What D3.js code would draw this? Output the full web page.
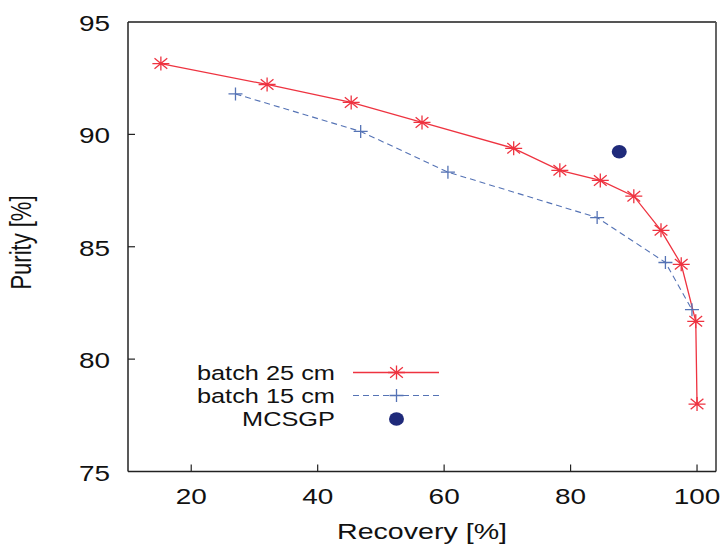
<!DOCTYPE html>
<html><head><meta charset="utf-8">
<script src="https://cdn.jsdelivr.net/npm/d3@7"></script>
<style>body{margin:0;background:#fff}svg{display:block}text{font-family:"Liberation Sans",Arial,sans-serif;fill:#111}</style>
</head><body><svg id="c" width="727" height="544"></svg>
<script>
const batch25Recovery = [15.2, 32.0, 45.3, 56.5, 71.0, 78.3, 84.7, 90.0, 94.3, 97.5, 99.8, 100.0];
const batch25Purity   = [93.15, 92.22, 91.42, 90.53, 89.38, 88.4, 87.95, 87.25, 85.73, 84.22, 81.68, 78.0];
const batch15Recovery = [27.0, 46.8, 60.6, 84.2, 95.0, 99.2];
const batch15Purity   = [91.8, 90.13, 88.32, 86.3, 84.3, 82.2];
const mcsgpRecovery = [87.7];
const mcsgpPurity   = [89.23];
const xTicks = [20, 40, 60, 80, 100];
const yTicks = [75, 80, 85, 90, 95];
const legendLabels = ["batch 25 cm", "batch 15 cm", "MCSGP"];

const SX = 1.3;
const svg = d3.select("#c");
const L = 128, R = 716, T = 22, B = 471.5;
const x = d3.scaleLinear().domain([10, 103]).range([L, R]);
const y = d3.scaleLinear().domain([75, 95]).range([B, T]);
const red = "#ee3340", blue = "#5573b5", navy = "#1f2a7a";

function stext(px, py, str, size, anchor, rot) {
  return svg.append("text")
    .attr("transform", `translate(${px},${py}) scale(${SX},1)` + (rot ? ` rotate(${rot})` : ""))
    .attr("text-anchor", anchor).attr("font-size", size).text(str);
}

// frame
svg.append("line").attr("x1", L).attr("x2", R).attr("y1", T).attr("y2", T).attr("stroke", "#555").attr("stroke-width", 1.8);
svg.append("line").attr("x1", R).attr("x2", R).attr("y1", T).attr("y2", B).attr("stroke", "#555").attr("stroke-width", 1.8);
svg.append("line").attr("x1", L).attr("x2", L).attr("y1", T).attr("y2", B).attr("stroke", "#222").attr("stroke-width", 1.5);
svg.append("line").attr("x1", L).attr("x2", R).attr("y1", B).attr("y2", B).attr("stroke", "#222").attr("stroke-width", 1.5);

// ticks
xTicks.forEach(t => {
  svg.append("line").attr("x1", x(t)).attr("x2", x(t)).attr("y1", B).attr("y2", B - 7).attr("stroke", "#222").attr("stroke-width", 1.2);
  stext(x(t), 504, t, 21.5, "middle");
});
yTicks.forEach(t => {
  if (t > 75 && t < 95) svg.append("line").attr("x1", L).attr("x2", L + 7).attr("y1", y(t)).attr("y2", y(t)).attr("stroke", "#222").attr("stroke-width", 1.2);
  stext(110, y(t) + 9, t, 21.5, "end");
});
stext((L + R) / 2, 539, "Recovery [%]", 22, "middle");
stext(31, 242.5, "Purity [%]", 22, "middle", -90);

function star(g, cx, cy, col) {
  const a = 8.5, b = 7;
  g.append("path").attr("d",
    `M${cx - a},${cy}L${cx + a},${cy}M${cx},${cy - b}L${cx},${cy + b}` +
    `M${cx - a * 0.75},${cy - b * 0.75}L${cx + a * 0.75},${cy + b * 0.75}M${cx - a * 0.75},${cy + b * 0.75}L${cx + a * 0.75},${cy - b * 0.75}`)
    .attr("stroke", col).attr("stroke-width", 1.3).attr("fill", "none");
}
function plus(g, cx, cy, col) {
  g.append("path").attr("d", `M${cx - 7},${cy}L${cx + 7},${cy}M${cx},${cy - 6.5}L${cx},${cy + 6.5}`)
    .attr("stroke", col).attr("stroke-width", 1.3).attr("fill", "none");
}

const line = d3.line().x(d => x(d[0])).y(d => y(d[1]));
const d25 = batch25Recovery.map((v, i) => [v, batch25Purity[i]]);
const d15 = batch15Recovery.map((v, i) => [v, batch15Purity[i]]);

svg.append("path").attr("d", line(d15)).attr("fill", "none").attr("stroke", blue).attr("stroke-width", 1.1).attr("stroke-dasharray", "6,4");
svg.append("path").attr("d", line(d25)).attr("fill", "none").attr("stroke", red).attr("stroke-width", 1.3);
const gm = svg.append("g");
d15.forEach(d => plus(gm, x(d[0]), y(d[1]), blue));
d25.forEach(d => star(gm, x(d[0]), y(d[1]), red));
mcsgpRecovery.forEach((v, i) => {
  svg.append("ellipse").attr("cx", x(v)).attr("cy", y(mcsgpPurity[i])).attr("rx", 7.5).attr("ry", 6.7).attr("fill", navy);
});

// legend
const ly = [372.5, 395.5, 419];
legendLabels.forEach((s, i) => stext(335, ly[i] + 7, s, 19.5, "end"));
svg.append("line").attr("x1", 353).attr("x2", 439).attr("y1", ly[0]).attr("y2", ly[0]).attr("stroke", red).attr("stroke-width", 1.3);
star(svg, 396.5, ly[0], red);
svg.append("line").attr("x1", 353).attr("x2", 439).attr("y1", ly[1]).attr("y2", ly[1]).attr("stroke", blue).attr("stroke-width", 1.1).attr("stroke-dasharray", "6,4");
plus(svg, 396.5, ly[1], blue);
svg.append("ellipse").attr("cx", 396.5).attr("cy", ly[2]).attr("rx", 7.5).attr("ry", 6.7).attr("fill", navy);
</script></body></html>
